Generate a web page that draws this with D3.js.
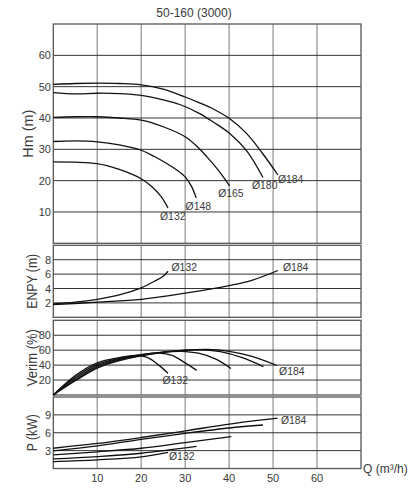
<!DOCTYPE html>
<html><head><meta charset="utf-8">
<script src="https://cdn.jsdelivr.net/npm/d3@7"></script>
<style>body{margin:0;background:#fff}svg{display:block}text{font-family:"Liberation Sans",Arial,sans-serif;fill:#3a3a3a}</style>
</head><body><svg id="c" width="415" height="500"></svg>
<script>
const title = "50-160 (3000)";
const xTicks = [10,20,30,40,50,60];
const xLabel = "Q (m³/h)";
const diameters = ["Ø132","Ø148","Ø165","Ø180","Ø184"];

const hmTicks = [10,20,30,40,50,60];
const hm132 = [[0,26],[5,25.9],[10,25.4],[15,23.6],[18,22],[20,20.6],[22.5,18],[24.5,15],[26.1,11.3]];
const hm148 = [[0,32.5],[5,32.7],[10,32.4],[15,31.4],[20,29.7],[23,27.7],[26,25.3],[28,23.5],[30,21.2],[31.5,18],[32.5,14.5]];
const hm165 = [[0,40.2],[5,40.4],[10,40.4],[15,40],[20,39.3],[25,37.2],[30,34],[33,30.5],[35,27.5],[38,22.5],[40.1,18.3]];
const hm180 = [[0,48.1],[5,47.7],[10,47.9],[15,47.8],[20,47.2],[25,45.8],[28.8,44.3],[33.3,41.4],[36.4,38.7],[40.2,35],[44,29.5],[47.7,21]];
const hm184 = [[0,50.7],[5,51],[10,51.1],[15,51],[20,50.6],[25,49.2],[30,46.7],[33,45],[36.5,42.8],[40,39.9],[44,35],[47.7,28.5],[51.1,21.8]];

const npshTicks = [2,4,6,8];
const npsh132 = [[0,1.85],[5,2.1],[10,2.5],[15,3.1],[20,4.1],[23,5],[25,5.7],[26.1,6.4]];
const npsh184 = [[0,1.75],[10,2.1],[20,2.5],[30,3.35],[40,4.4],[45,5.1],[51.1,6.5]];

const effTicks = [20,40,60,80];
const eff132 = [[0,0],[5,26],[10,43],[15,50],[19,53],[21.5,50],[24,40],[26.1,29]];
const eff148 = [[0,0],[5,24],[10,41],[15,49],[20,54],[24,56],[27,53],[30,43],[32.6,33]];
const eff165 = [[0,0],[5,22],[10,39],[15,48],[20,54],[25,57.5],[29,58.5],[33,56],[37,48],[40.4,35.5]];
const eff180 = [[0,0],[5,20],[10,37.5],[15,47],[20,53],[25,57.5],[30,60],[34,60.5],[38,58],[43,50],[47.8,38]];
const eff184 = [[0,0],[5,19],[10,36],[15,46],[20,52.5],[25,57],[30,60],[35,61],[40,58.5],[45,52],[50.9,39.5]];

const pTicks = [3,6,9];
const p132 = [[0,1.15],[10,1.45],[20,1.95],[26.1,2.7]];
const p148 = [[0,1.6],[10,2.0],[20,2.56],[32.6,3.7]];
const p165 = [[0,2.3],[10,2.8],[20,3.4],[30,4.35],[40.5,5.35]];
const p180 = [[0,2.95],[10,3.8],[20,4.9],[30,5.9],[40,6.8],[47.7,7.3]];
const p184 = [[0,3.4],[10,4.2],[20,5.2],[30,6.3],[40,7.45],[51,8.45]];

const svg = d3.select("#c");
const x = d3.scaleLinear().domain([0,70]).range([53.3,361]);

svg.append("text").attr("x",194).attr("y",16.5).attr("text-anchor","middle")
  .style("font-size","12px").text(title);

// label offsets: [diameter index, series, dx, dy(center)] relative to curve end
const panels = [
  {name:"Hm (m)", top:24, bot:243.3, max:70, ticks:hmTicks, lblX:27.5, lblLen:48,
   series:[hm132,hm148,hm165,hm180,hm184],
   labels:[[0,hm132,-8,8],[1,hm148,-10.6,8],[2,hm165,-11.4,7.5],[3,hm180,-11,8],[4,hm184,0,4.2]]},
  {name:"ENPY (m)", top:245.3, bot:317.3, max:10, ticks:npshTicks, lblX:31.7, lblLen:55,
   series:[npsh132,npsh184],
   labels:[[0,npsh132,3.5,-4.4],[4,npsh184,5,-3.8]]},
  {name:"Verim (%)", top:320.3, bot:395, max:100, ticks:effTicks, lblX:31.7, lblLen:57,
   series:[eff132,eff148,eff165,eff180,eff184],
   labels:[[0,eff132,-5.5,6.7],[4,eff184,2,5.3]]},
  {name:"P (kW)", top:397, bot:468.5, max:12, ticks:pTicks, lblX:31.7, lblLen:37,
   series:[p132,p148,p165,p180,p184],
   labels:[[0,p132,1,3.3],[4,p184,3.4,1.8]]}
];

panels.forEach(pn => {
  const y = d3.scaleLinear().domain([0,pn.max]).range([pn.bot,pn.top]);
  const g = svg.append("g");
  g.selectAll("line.v").data(xTicks).join("line")
    .attr("x1",d=>x(d)).attr("x2",d=>x(d)).attr("y1",pn.top).attr("y2",pn.bot)
    .attr("stroke","#a0a0a0").attr("stroke-width",1.4);
  g.selectAll("line.h").data(pn.ticks).join("line")
    .attr("x1",x(0)).attr("x2",x(70)).attr("y1",d=>y(d)).attr("y2",d=>y(d))
    .attr("stroke","#333").attr("stroke-width",1);
  g.append("rect").attr("x",x(0)).attr("y",pn.top).attr("width",x(70)-x(0)).attr("height",pn.bot-pn.top)
    .attr("fill","none").attr("stroke","#555").attr("stroke-width",1.3);
  g.selectAll("text.t").data(pn.ticks).join("text")
    .attr("x",51).attr("y",d=>y(d)+4).attr("text-anchor","end")
    .style("font-size","11px").text(d=>d);
  const cy = (pn.top+pn.bot)/2;
  g.append("text").attr("transform",`translate(${pn.lblX+5},${cy}) rotate(-90)`)
    .attr("text-anchor","middle").attr("textLength",pn.lblLen).attr("lengthAdjust","spacingAndGlyphs")
    .style("font-size","14px").text(pn.name);
  const line = d3.line().x(d=>x(d[0])).y(d=>y(d[1])).curve(d3.curveCatmullRom.alpha(0.5));
  g.selectAll("path.s").data(pn.series).join("path")
    .attr("d",line).attr("fill","none").attr("stroke","#111").attr("stroke-width",1.3);
  pn.labels.forEach(([di,s,dx,dy]) => {
    const e = s[s.length-1];
    g.append("text").attr("x",x(e[0])+dx).attr("y",y(e[1])+dy+3.8)
      .attr("textLength",25.5).attr("lengthAdjust","spacingAndGlyphs")
      .style("font-size","11px").text(diameters[di]);
  });
});

svg.selectAll("text.xt").data(xTicks).join("text")
  .attr("x",d=>x(d)).attr("y",482).attr("text-anchor","middle")
  .style("font-size","11px").text(d=>d);
svg.append("text").attr("x",363).attr("y",472.5).style("font-size","12px").text(xLabel);
</script></body></html>
